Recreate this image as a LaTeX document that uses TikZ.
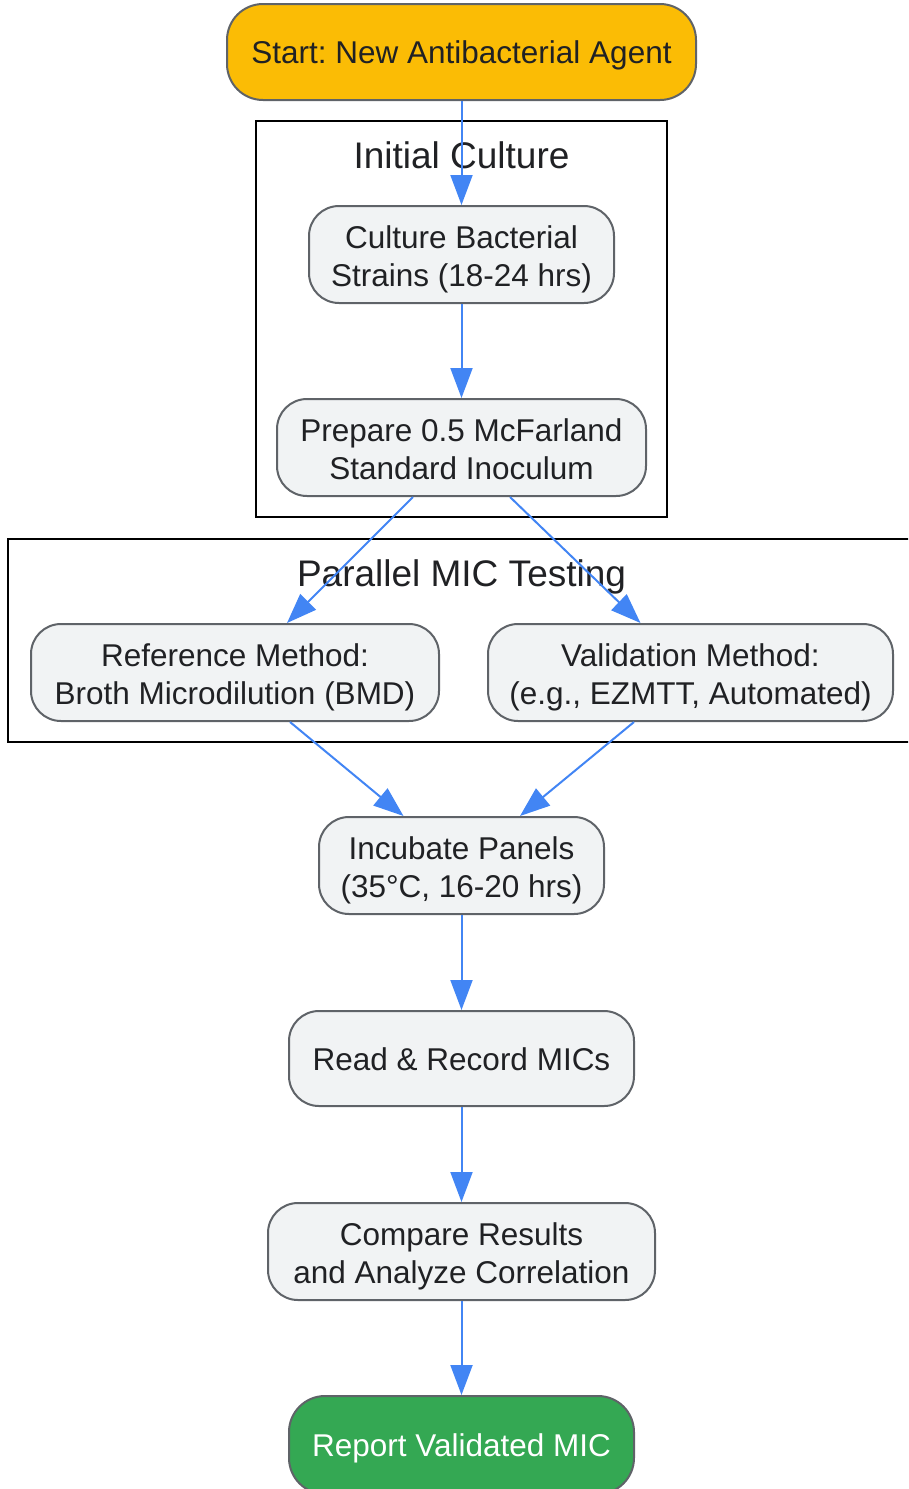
\documentclass[tikz,border=0pt]{standalone}
\usepackage{fontspec}
\setmainfont{Liberation Sans}
\frenchspacing
\usetikzlibrary{arrows.meta}
\definecolor{nodefill}{HTML}{F1F3F4}
\definecolor{nodeborder}{HTML}{5F6368}
\definecolor{txt}{HTML}{202124}
\definecolor{edgeblue}{HTML}{4285F4}
\definecolor{startfill}{HTML}{FBBC05}
\definecolor{endfill}{HTML}{34A853}
\tikzset{
  box/.style={draw=nodeborder, line width=2pt, fill=nodefill, rounded corners=30pt,
    text=txt, align=center, inner sep=0pt, minimum height=97pt,
    font=\fontsize{31.5pt}{38pt}\selectfont,
    execute at begin node={\rule{0pt}{33pt}},
    execute at end node={\rule[-10pt]{0pt}{10pt}}},
  two/.style={execute at begin node={\rule{0pt}{74pt}}},
  cluster/.style={draw=black, line width=2pt},
  ctitle/.style={text=txt, font=\fontsize{37pt}{44pt}\selectfont, inner sep=0pt, anchor=base},
  flow/.style={draw=edgeblue, line width=2pt, -{Triangle[length=30pt,width=22pt]}}
}
\begin{document}
\begin{tikzpicture}[x=1pt,y=-1pt]
\path[use as bounding box] (0,0) rectangle (908,1489);
\clip (0,0) rectangle (908,1489);
% clusters
\draw[cluster] (256,121) rectangle (667,517);
\node[ctitle] (t1) at (461.5,168) {Initial Culture};
\draw[cluster] (8,539) rectangle (920,742);
\node[ctitle] (t2) at (461.5,586) {Parallel MIC Testing};
% nodes
\node[box, fill=startfill, minimum width=469pt, minimum height=96pt, rounded corners=36pt] (start) at (461.5,52) {Start: New Antibacterial Agent};
\node[box, two, minimum width=305pt] (cult) at (461.5,254.5) {Culture Bacterial\\Strains (18-24 hrs)};
\node[box, two, minimum width=369pt] (prep) at (461.5,447.5) {Prepare 0.5 McFarland\\Standard Inoculum};
\node[box, two, minimum width=408pt] (ref) at (235,672.5) {Reference Method:\\Broth Microdilution (BMD)};
\node[box, two, minimum width=405pt] (val) at (690.5,672.5) {Validation Method:\\(e.g., EZMTT, Automated)};
\node[box, two, minimum width=285pt] (inc) at (461.5,865.5) {Incubate Panels\\(35°C, 16-20 hrs)};
\node[box, minimum width=345pt, minimum height=95pt] (read) at (461.5,1058.5) {Read \& Record MICs};
\node[box, fill=endfill, text=white, minimum width=345pt, minimum height=98pt, rounded corners=36pt] (rep) at (461.5,1445) {Report Validated MIC};
\node[box, two, minimum width=387pt] (comp) at (461.5,1251.5) {Compare Results\\and Analyze Correlation};
% edges
\draw[flow] (start.south) -- (cult.north);
\draw[flow] (cult.south) -- (prep.north);
\draw[flow] ([xshift=-48.5pt]prep.south) -- ([xshift=52pt]ref.north);
\draw[flow] ([xshift=48.5pt]prep.south) -- ([xshift=-50pt]val.north);
\draw[flow] ([xshift=55pt]ref.south) -- ([xshift=-58pt]inc.north);
\draw[flow] ([xshift=-56.5pt]val.south) -- ([xshift=58.5pt]inc.north);
\draw[flow] (inc.south) -- (read.north);
\draw[flow] (read.south) -- (comp.north);
\draw[flow] (comp.south) -- (rep.north);
\end{tikzpicture}
\end{document}
